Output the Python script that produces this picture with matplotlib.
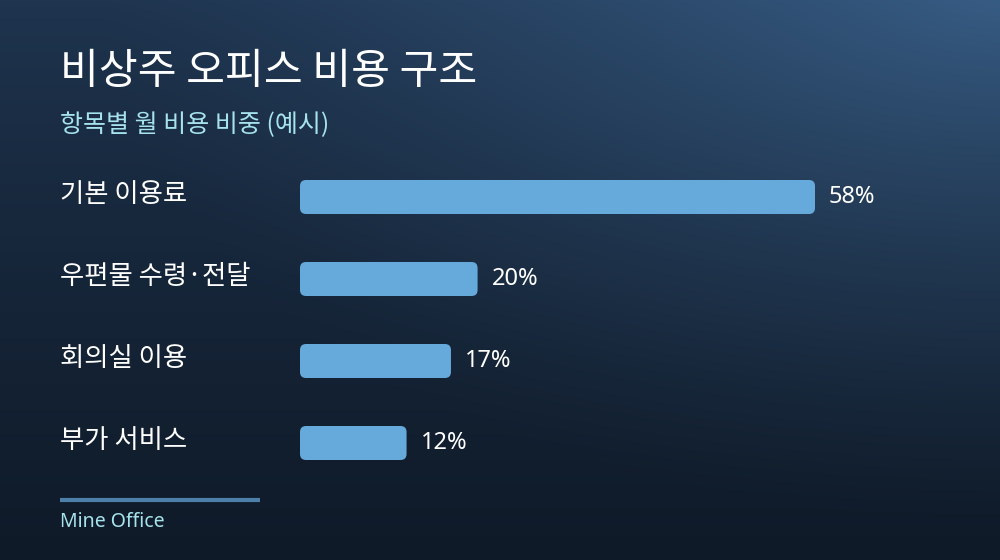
import numpy as np
import matplotlib
matplotlib.use("Agg")
import matplotlib.pyplot as plt
from matplotlib.patches import FancyBboxPatch
from matplotlib.transforms import blended_transform_factory

plt.rcParams['font.family'] = ['Noto Sans CJK KR', 'DejaVu Sans']

# data
categories = ['기본 이용료', '우편물 수령·전달', '회의실 이용', '부가 서비스']
shares = [58, 20, 17, 12]
title = '비상주 오피스 비용 구조'
subtitle = '항목별 월 비용 비중 (예시)'
source = 'Mine Office'

W, H = 1000, 560
fig = plt.figure(figsize=(W / 100, H / 100), dpi=100)

# background gradient (dark navy, lighter toward top right)
bg = fig.add_axes([0, 0, 1, 1])
yy, xx = np.mgrid[0:H, 0:W]
top = np.array([0x1f, 0x35, 0x50]) / 255
bottom = np.array([0x0f, 0x1a, 0x28]) / 255
t = (yy / H)[..., None] ** 0.8
img = top * (1 - t) + bottom * t
d = np.sqrt(((xx - W) / 900.0) ** 2 + (yy / 520.0) ** 2)
glow = np.clip(1 - d, 0, 1)[..., None] ** 1.2
img = img + glow * (np.array([0x37, 0x5c, 0x84]) / 255 - top)
bg.imshow(np.clip(img, 0, 1), extent=[0, W, H, 0], aspect='auto')
bg.set_xlim(0, W)
bg.set_ylim(H, 0)
bg.axis('off')

fig.text(60 / W, 1 - 72 / H, title, color='white', fontsize=30.4,
         va='center', ha='left')
fig.text(60 / W, 1 - 125 / H, subtitle, color='#a6e3ec', fontsize=18,
         va='center', ha='left')

# bar axes: x from 300px, y rows every 82px
ax = fig.add_axes([300 / W, 1 - 484 / H, 700 / W, 328 / H])
ax.set_xlim(0, 58 * 700 / 515)
ax.set_ylim(len(categories) - 0.5, -0.5)
ax.axis('off')

bar_h = 34 / 82
px_x = ax.get_xlim()[1] / 700
px_y = len(categories) / 328
for i, v in enumerate(shares):
    box = FancyBboxPatch((0, i - bar_h / 2), v, bar_h,
                         boxstyle='round,pad=0,rounding_size=%f' % (6 * px_x),
                         mutation_aspect=px_y / px_x,
                         facecolor='#66aadc', edgecolor='none')
    ax.add_patch(box)
    ax.annotate('%d%%' % v, (v, i), xytext=(10, 0), textcoords='offset points',
                color='white', fontsize=17, va='center', ha='left',
                family=['Noto Sans', 'DejaVu Sans'])

lab_tr = blended_transform_factory(fig.transFigure, ax.transData)
for i, c in enumerate(categories):
    ax.text(60 / W, i - 0.03, c, transform=lab_tr, color='white',
            fontsize=19, va='center', ha='left')

bg.plot([60, 260], [500, 500], color='#4d80a8', lw=3, solid_capstyle='butt')
fig.text(60 / W, 1 - 522 / H, source, color='#a6e3ec', fontsize=14,
         va='center', ha='left', family=['Noto Sans', 'DejaVu Sans'])

fig.savefig('out.png', dpi=100)
